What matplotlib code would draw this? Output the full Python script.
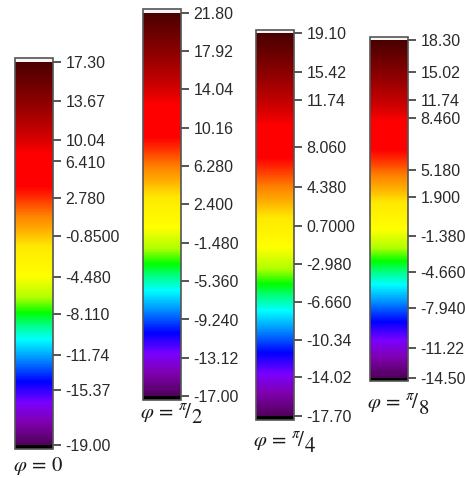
import numpy as np
import matplotlib
matplotlib.use('Agg')
import matplotlib.pyplot as plt
from matplotlib.colors import LinearSegmentedColormap, FuncNorm

plt.rcParams['font.family'] = ['Liberation Sans', 'DejaVu Sans']
plt.rcParams['mathtext.fontset'] = 'stix'

# tick values of each colour scale (top to bottom)
ticks_0 = [17.30, 13.67, 10.04, 6.410, 2.780, -0.8500, -4.480, -8.110, -11.74, -15.37, -19.00]
ticks_pi2 = [21.80, 17.92, 14.04, 10.16, 6.280, 2.400, -1.480, -5.360, -9.240, -13.12, -17.00]
ticks_pi4 = [19.10, 15.42, 11.74, 8.060, 4.380, 0.7000, -2.980, -6.660, -10.34, -14.02, -17.70]
ticks_pi8 = [18.30, 15.02, 11.74, 8.460, 5.180, 1.900, -1.380, -4.660, -7.940, -11.22, -14.50]

# non-uniform scale: where each tick value sits along the bar (0 = bottom, 1 = top)
scale_0 = [1.0, 0.899, 0.797, 0.740, 0.644, 0.546, 0.438, 0.342, 0.234, 0.143, 0.0]
scale_pi2 = [1.0, 0.9, 0.8, 0.7, 0.6, 0.5, 0.4, 0.3, 0.2, 0.1, 0.0]
scale_pi4 = [1.0, 0.900, 0.825, 0.702, 0.599, 0.497, 0.398, 0.298, 0.199, 0.102, 0.0]
scale_pi8 = [1.0, 0.906, 0.823, 0.769, 0.617, 0.536, 0.420, 0.313, 0.206, 0.088, 0.0]

# phase angle under each bar: main part and denominator of pi/n
title_main = [r'$\varphi\,=\,0$', r'$\varphi\,=\,{}^{\pi}\!/$',
              r'$\varphi\,=\,{}^{\pi}\!/$', r'$\varphi\,=\,{}^{\pi}\!/$']
title_denom = [None, '2', '4', '8']

# rainbow map, purple at the bottom to dark red at the top
nodes = [(0.0, '#50005a'), (0.06, '#8000b0'), (0.11, '#7a00ff'), (0.165, '#0000ff'),
         (0.225, '#0090ff'), (0.275, '#00ffff'), (0.31, '#00ff90'), (0.345, '#00ff00'),
         (0.385, '#b0ff00'), (0.44, '#ffff00'), (0.52, '#ffe800'), (0.56, '#ffb000'),
         (0.60, '#ff8000'), (0.645, '#ff3000'), (0.675, '#ff0000'), (0.76, '#ff0000'),
         (0.805, '#d00000'), (0.89, '#900000'), (1.0, '#4a0000')]
cmap = LinearSegmentedColormap.from_list('rainbow_fem', nodes, N=512)
cmap.set_over('#f6f6f6')
cmap.set_under('#000000')

W, H = 465, 478
fig = plt.figure(figsize=(W / 100, H / 100), dpi=100)

# bar boxes in pixels: left, top, bottom ; title left, title centre y
boxes = [(15, 58, 449, 13, 466), (143, 9, 400, 140, 412),
         (256, 29.5, 420, 253, 441), (370, 37, 381, 367, 403)]
all_ticks = [ticks_0, ticks_pi2, ticks_pi4, ticks_pi8]
all_scales = [scale_0, scale_pi2, scale_pi4, scale_pi8]


def make_norm(tk, sc):
    vals = np.array(tk[::-1], dtype=float)
    pos = np.array(sc[::-1], dtype=float)
    span = vals[-1] - vals[0]
    # extend linearly past both ends so the over/under bands get their colours
    vals = np.concatenate([[vals[0] - span], vals, [vals[-1] + span]])
    pos = np.concatenate([[-1.0], pos, [2.0]])
    fwd = lambda v: np.interp(v, vals, pos)
    inv = lambda p: np.interp(p, pos, vals)
    return FuncNorm((fwd, inv), vmin=tk[-1], vmax=tk[0])


for i, (x0, top, bot, tx, ty) in enumerate(boxes):
    tk = all_ticks[i]
    norm = make_norm(tk, all_scales[i])
    cax = fig.add_axes([x0 / W, 1 - bot / H, 38 / W, (bot - top) / H])
    sm = plt.cm.ScalarMappable(norm=norm, cmap=cmap)
    cb = fig.colorbar(sm, cax=cax, extend='both', extendrect=True, extendfrac=0.01)
    cb.minorticks_off()
    cb.set_ticks(tk, labels=[format(v, '#.4g') for v in tk])
    cb.outline.set_edgecolor('#555555')
    cb.outline.set_linewidth(1.2)
    cax.tick_params(axis='y', length=6, width=1.4, color='#555555', pad=3,
                    labelsize=11.5, labelcolor='#2a2a2a')

    t = fig.text(tx / W, 1 - ty / H, title_main[i], fontsize=15,
                 va='center', ha='left', color='#1a1a1a')
    if title_denom[i]:
        # denominator sits low, right after the slash
        fig.add_artist(plt.Annotation('$' + title_denom[i] + '$', xy=(1.0, 0.25),
                                      xycoords=t, xytext=(-1, 0), textcoords='offset points',
                                      fontsize=15, color='#1a1a1a', va='center', ha='left'))

fig.savefig('out.png', dpi=100)
